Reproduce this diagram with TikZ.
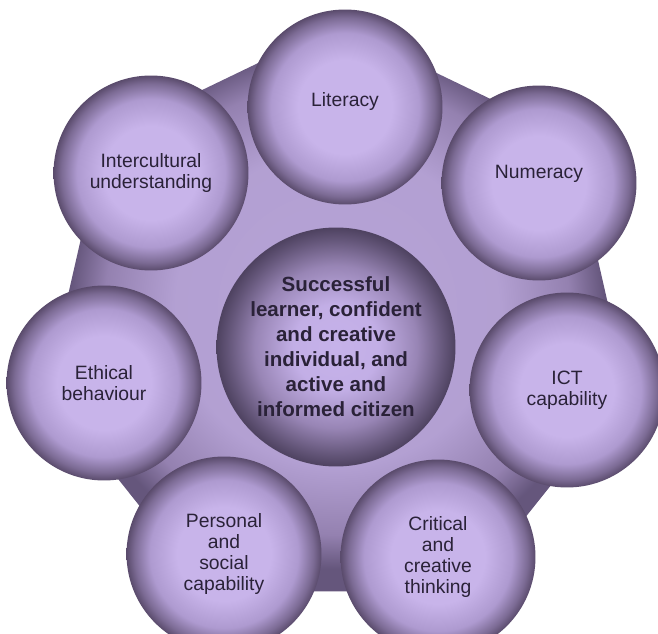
\documentclass[tikz,border=0pt]{standalone}
\usepackage{fontspec}
\setmainfont{Liberation Sans}
\usetikzlibrary{shapes.geometric}

\definecolor{ink}{HTML}{2A2238}
\definecolor{sphin}{HTML}{C8B4EA}
\definecolor{sphmid}{HTML}{AE9AD0}
\definecolor{sphrim}{HTML}{5A4B6C}
\definecolor{corein}{HTML}{C6B2EA}
\definecolor{coremid}{HTML}{9885B5}
\definecolor{corerim}{HTML}{4E4260}
\definecolor{backin}{HTML}{B6A3D6}
\definecolor{backmid}{HTML}{9481B0}
\definecolor{backrim}{HTML}{65567C}

\pgfdeclareradialshading{spheregrad}{\pgfpoint{0bp}{0bp}}{color(0bp)=(sphin); color(12bp)=(sphin); color(19bp)=(sphmid); color(23bp)=(sphrim!60!sphmid); color(25bp)=(sphrim); color(50bp)=(sphrim)}
\pgfdeclareradialshading{coregrad}{\pgfpoint{0bp}{0bp}}{color(0bp)=(corein); color(9bp)=(corein!92!coremid); color(17bp)=(coremid); color(22.5bp)=(corerim!70!coremid); color(25bp)=(corerim); color(50bp)=(corerim)}
\pgfdeclareradialshading{backgrad}{\pgfpoint{0bp}{0bp}}{color(0bp)=(backin); color(14bp)=(backin!90!backmid); color(20bp)=(backmid); color(23bp)=(backrim); color(50bp)=(backrim)}

\begin{document}
\begin{tikzpicture}[x=0.02cm,y=-0.02cm]
    % `sphere' is used for the seven capabilities round the edge.
    % `core' is used for the middle circle.
    % `surround' is used for the background heptagon.
    \tikzstyle{sphere} = [circle,shading=spheregrad,minimum size=3.9cm,inner sep=0pt,align=center,text=ink,font=\fontsize{11}{11.8}\selectfont]
    \tikzstyle{core} = [circle,shading=coregrad,minimum size=4.78cm,inner sep=0pt,align=center,text=ink,font=\fontsize{11.7}{14.2}\selectfont\bfseries]
    \tikzstyle{surround} = [regular polygon,regular polygon sides=7,shading=backgrad,minimum size=11.92cm,inner sep=0pt]
    %
    \useasboundingbox (0,0) rectangle (658,634);
    \node[surround] (back) at (337,323) {};
    \node[core] (centre) at (336,347) {Successful\\learner, confident\\and creative\\individual, and\\active and\\informed citizen};
    %
    \node[sphere] (literacy) at (345,107) {\raisebox{1.5ex}{Literacy}};
    \node[sphere] (numeracy) at (539,183) {\raisebox{2.2ex}{Numeracy}};
    \node[sphere] (ict) at (567,390) {ICT\\capability};
    \node[sphere] (critical) at (438,557) {Critical\\and\\creative\\thinking};
    \node[sphere] (personal) at (224,554) {Personal\\and\\social\\capability};
    \node[sphere] (ethical) at (104,383) {Ethical\\behaviour};
    \node[sphere] (intercultural) at (151,173) {Intercultural\\understanding};
\end{tikzpicture}
\end{document}
